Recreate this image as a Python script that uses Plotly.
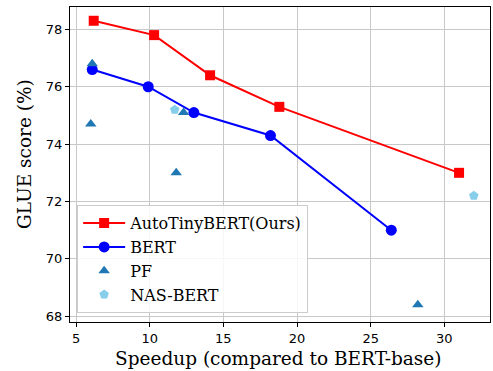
import plotly.graph_objects as go

auto_x = [6.2, 10.3, 14.1, 18.8, 31.0]
auto_y = [78.3, 77.8, 76.4, 75.3, 73.0]
bert_x = [6.1, 9.9, 13.0, 18.2, 26.4]
bert_y = [76.6, 76.0, 75.1, 74.3, 71.0]
pf_x = [6.1, 6.0, 12.3, 11.8, 28.2]
pf_y = [76.8, 74.7, 75.1, 73.0, 68.4]
nas_x = [11.7, 32.0]
nas_y = [75.2, 72.2]

x_ticks = [5, 10, 15, 20, 25, 30]
y_ticks = [68, 70, 72, 74, 76, 78]

fig = go.Figure()
fig.add_trace(go.Scatter(x=auto_x, y=auto_y, mode="lines+markers", name="AutoTinyBERT(Ours)",
                         line=dict(color="#ff0000", width=2),
                         marker=dict(symbol="square", size=10, color="#ff0000")))
fig.add_trace(go.Scatter(x=bert_x, y=bert_y, mode="lines+markers", name="BERT",
                         line=dict(color="#0000ff", width=2),
                         marker=dict(symbol="circle", size=11, color="#0000ff")))
fig.add_trace(go.Scatter(x=pf_x, y=pf_y, mode="markers", name="PF",
                         marker=dict(symbol="triangle-up", size=10, color="#1f77b4")))
fig.add_trace(go.Scatter(x=nas_x, y=nas_y, mode="markers", name="NAS-BERT",
                         marker=dict(symbol="pentagon", size=10, color="#87ceeb")))

axis_common = dict(showline=True, linecolor="black", linewidth=1.2, mirror=True,
                   showgrid=True, gridcolor="#c8c8c8", gridwidth=1,
                   ticks="outside", ticklen=4, tickcolor="black",
                   tickfont=dict(family="DejaVu Sans", size=13, color="black"),
                   zeroline=False, automargin=False)

title_font = dict(family="DejaVu Serif", size=18.5, color="black")

fig.update_layout(
    width=493, height=371,
    margin=dict(l=70, r=3, t=7, b=49),
    plot_bgcolor="white", paper_bgcolor="white",
    xaxis=dict(range=[4.59, 33.1], tickvals=x_ticks, **axis_common),
    yaxis=dict(range=[67.8, 78.78], tickvals=y_ticks, **axis_common),
    legend=dict(x=0.017, y=0.028, xanchor="left", yanchor="bottom",
                bgcolor="rgba(255,255,255,0.85)", bordercolor="#cccccc", borderwidth=1,
                font=dict(family="DejaVu Serif", size=16, color="black"),
                tracegroupgap=0, itemwidth=42),
    annotations=[
        dict(text="Speedup (compared to BERT-base)", xref="paper", yref="paper",
             x=0.495, y=-0.117, xanchor="center", yanchor="middle", showarrow=False,
             font=title_font),
        dict(text="GLUE score (%)", xref="paper", yref="paper",
             x=-0.11, y=0.533, xanchor="center", yanchor="middle", showarrow=False,
             textangle=-90, font=title_font),
    ],
    showlegend=True,
)

fig.write_html("out.html", config={"displayModeBar": False},
               post_script="document.body.style.margin='0';document.body.style.padding='0';document.body.style.overflow='hidden';")
